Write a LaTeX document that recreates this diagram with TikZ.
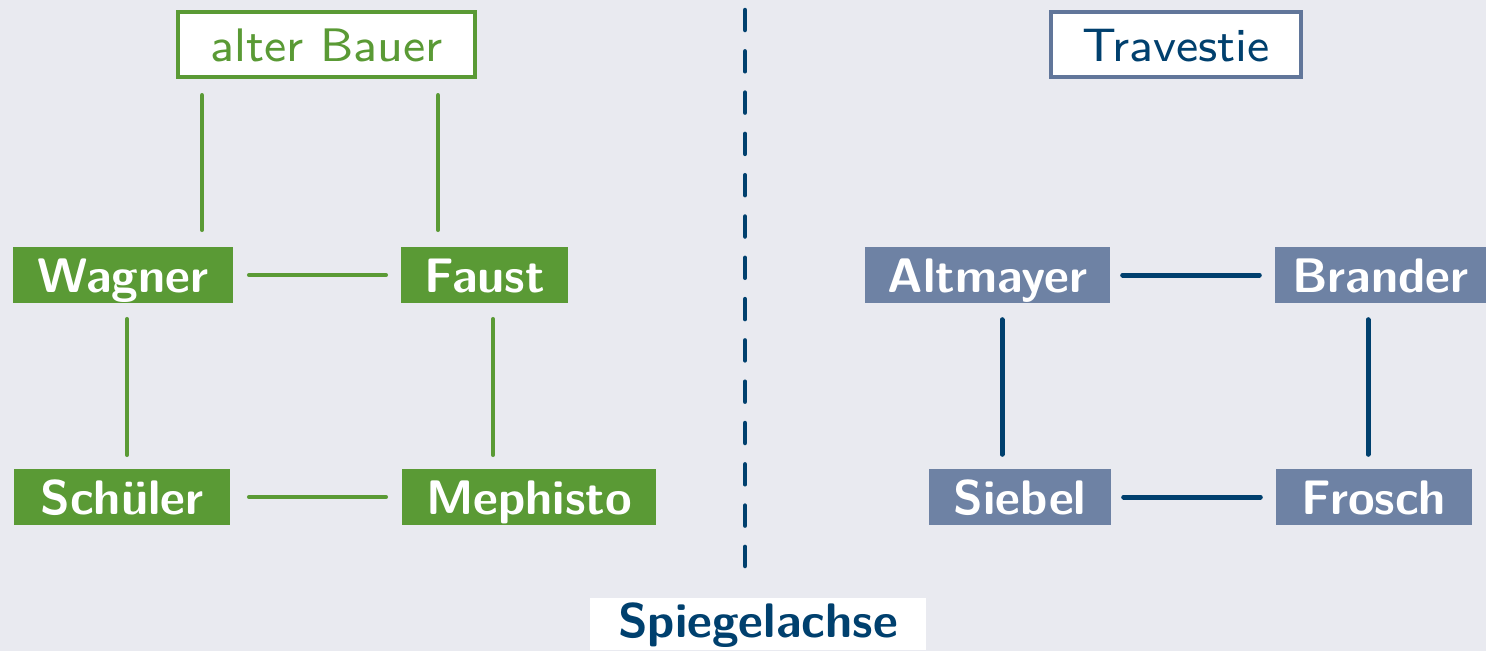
\documentclass[tikz,border=0pt]{standalone}
\usepackage{fontspec}
\newfontfamily\lmseight{lmsans8-regular.otf}
\definecolor{bgc}{HTML}{E9EAF0}
\definecolor{pgreen}{HTML}{5A9A35}
\definecolor{pslate}{HTML}{6E82A4}
\definecolor{pslated}{HTML}{61769A}
\definecolor{pblue}{HTML}{00406E}
\tikzset{
  fbox/.style={text=white, font=\sffamily\bfseries\fontsize{48.5}{58}\selectfont, minimum height=56, inner sep=0, text height=34, text depth=0},
  gbox/.style={fbox, fill=pgreen},
  bbox/.style={fbox, fill=pslate},
  obox/.style={fill=white, line width=4, font=\lmseight\fontsize{47}{56}\selectfont, minimum height=65, inner sep=0, text height=33, text depth=0},
  gline/.style={draw=pgreen, line width=4.5, line cap=round},
  bline/.style={draw=pblue, line width=5, line cap=round},
}
\begin{document}
\begin{tikzpicture}[x=1pt,y=-1pt]
\useasboundingbox[fill=bgc] (0,0) rectangle (1486,651);
% top label boxes
\node[obox, draw=pgreen, text=pgreen, minimum width=297] (ab) at (326.5,44.5) {alter Bauer};
\node[obox, draw=pslated, text=pblue, minimum width=250] (tr) at (1176,44.5) {Travestie};
% left group
\node[gbox, minimum width=220] (wag) at (123,275) {Wagner};
\node[gbox, minimum width=167] (fau) at (484.5,275) {Faust};
\node[gbox, minimum width=216] (sch) at (122,497) {Schüler};
\node[gbox, minimum width=254] (mep) at (529,497) {Mephisto};
% right group
\node[bbox, minimum width=245] (alt) at (987.5,275) {Altmayer};
\node[bbox, minimum width=211] (bra) at (1380.5,275) {Brander};
\node[bbox, minimum width=182] (sie) at (1020,497) {Siebel};
\node[bbox, minimum width=196] (fro) at (1374,497) {Frosch};
% axis label
\node[fill=white, text=pblue, font=\sffamily\bfseries\fontsize{48.5}{58}\selectfont, minimum width=336, inner xsep=0, inner ysep=3, text height=36, text depth=10, anchor=north] (spi) at (758,598) {Spiegelachse};
% mirror axis
\coordinate (axt) at (745,10);
\coordinate (axb) at (745,566);
\draw[draw=pblue, line width=4.5, line cap=round, dash pattern=on 20 off 21.3] (axt) -- (axb);
% green connectors
\coordinate (ab1) at ([xshift=26]ab.south west);
\coordinate (ab2) at ([xshift=-39]ab.south east);
\draw[gline, shorten <=16.25, shorten >=17] (ab1) -- (ab1 |- wag.north);
\draw[gline, shorten <=16.25, shorten >=17] (ab2) -- (ab2 |- fau.north);
\draw[gline, shorten <=16, shorten >=15] (wag.east) -- (fau.west);
\draw[gline, shorten <=19, shorten >=16] (sch.east) -- (mep.west);
\coordinate (ws) at ([xshift=4]wag.south);
\coordinate (fm) at ([xshift=8.5]fau.south);
\draw[gline, shorten <=16, shorten >=14] (ws) -- (ws |- sch.north);
\draw[gline, shorten <=16, shorten >=14] (fm) -- (fm |- mep.north);
% blue connectors
\draw[bline, shorten <=12.5, shorten >=15.5] (alt.east) -- (bra.west);
\draw[bline, shorten <=12.5, shorten >=15.5] (sie.east) -- (fro.west);
\coordinate (as) at ([xshift=14.5]alt.south);
\coordinate (bf) at ([xshift=-12.5]bra.south);
\draw[bline, shorten <=16.5, shorten >=14.5] (as) -- (as |- sie.north);
\draw[bline, shorten <=16.5, shorten >=14.5] (bf) -- (bf |- fro.north);
\end{tikzpicture}
\end{document}
